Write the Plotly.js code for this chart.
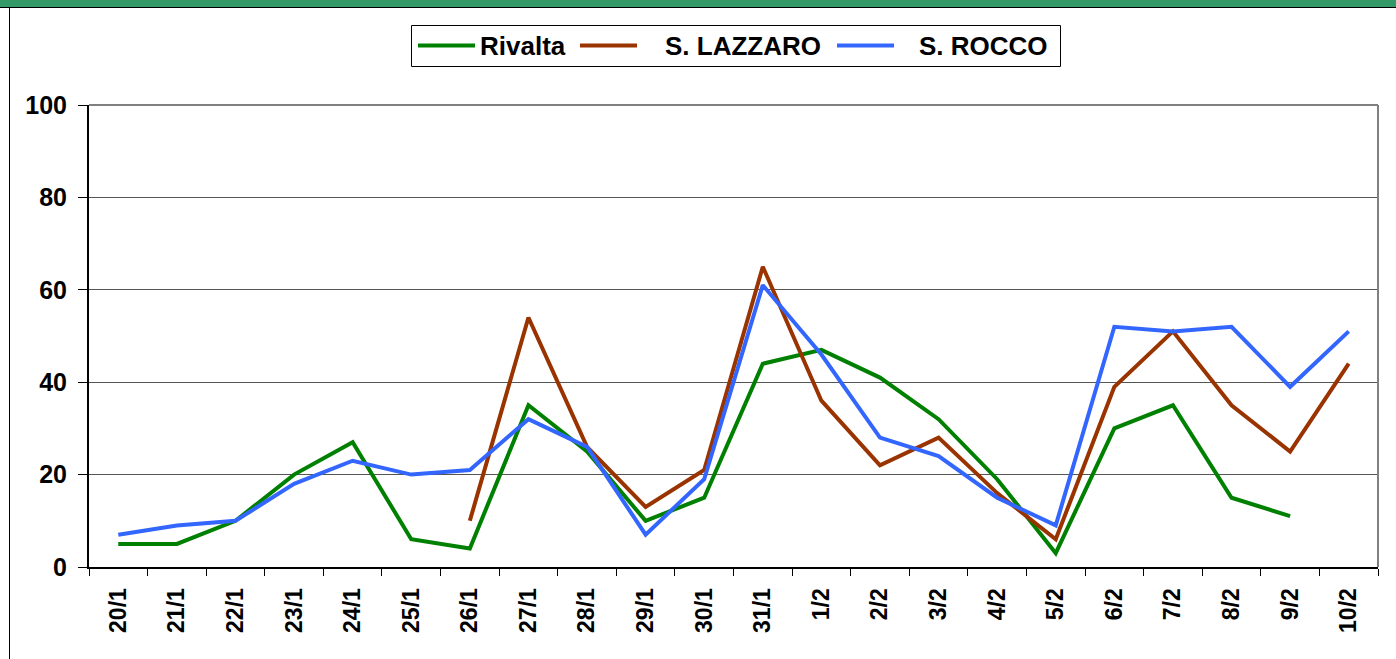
<!DOCTYPE html>
<html>
<head>
<meta charset="utf-8">
<script src="https://cdn.plot.ly/plotly-3.0.1.min.js"></script>
<style>
  html, body { margin: 0; padding: 0; background: #ffffff; }
  #chart { width: 1396px; height: 659px; }
</style>
</head>
<body>
<div id="chart"></div>
<script>
const categories = ["20/1","21/1","22/1","23/1","24/1","25/1","26/1","27/1","28/1","29/1","30/1","31/1",
                    "1/2","2/2","3/2","4/2","5/2","6/2","7/2","8/2","9/2","10/2"];
const rivalta   = [5, 5, 10, 20, 27, 6, 4, 35, 25, 10, 15, 44, 47, 41, 32, 19, 3, 30, 35, 15, 11, null];
const sLazzaro  = [null, null, null, null, null, null, 10, 54, 26, 13, 21, 65, 36, 22, 28, 16, 6, 39, 51, 35, 25, 44];
const sRocco    = [7, 9, 10, 18, 23, 20, 21, 32, 26, 7, 19, 61, 46, 28, 24, 15, 9, 52, 51, 52, 39, 51];
const seriesNames = ["Rivalta", "S. LAZZARO", "S. ROCCO"];
const seriesColors = ["#008000", "#993300", "#3366FF"];
const yTicks = [0, 20, 40, 60, 80, 100];

const W = 1396, H = 659;
const L = 89, R = 1378, T = 105, B = 567;
const px = x => (x - L) / (R - L);
const py = y => (B - y) / (B - T);

const font = "Liberation Sans, Arial, sans-serif";

const seriesValues = [rivalta, sLazzaro, sRocco];
const traces = seriesValues.map((vals, i) => ({
  type: "scatter", mode: "lines", connectgaps: false,
  x: categories, y: vals, name: seriesNames[i],
  line: {color: seriesColors[i], width: 4},
  showlegend: false
}));

// custom legend (Excel-style long line samples)
const legendBox = {x0: 411, x1: 1060, y0: 25, y1: 66};
const legendLineX = [[418, 475], [580, 637], [837, 894]];
const legendTextX = [479, 664, 918];
const legendY = 45.5;

const shapes = [
  // green banner at the top
  {type: "rect", xref: "paper", yref: "paper", x0: px(0), x1: px(W), y0: py(7), y1: py(0),
   fillcolor: "#339966", line: {width: 0}, layer: "below"},
  // outer chart frame
  {type: "line", xref: "paper", yref: "paper", x0: px(0), x1: px(W), y0: py(7.5), y1: py(7.5),
   line: {color: "#000000", width: 1}},
  {type: "line", xref: "paper", yref: "paper", x0: px(9.5), x1: px(9.5), y0: py(7.5), y1: py(H),
   line: {color: "#000000", width: 1}},
  // plot area border (top and right)
  {type: "line", xref: "paper", yref: "paper", x0: 0, x1: 1, y0: 1, y1: 1,
   line: {color: "#808080", width: 2}},
  {type: "line", xref: "paper", yref: "paper", x0: 1, x1: 1, y0: 0, y1: 1,
   line: {color: "#808080", width: 2}},
  // legend box
  {type: "rect", xref: "paper", yref: "paper",
   x0: px(legendBox.x0 + 0.5), x1: px(legendBox.x1 + 0.5), y0: py(legendBox.y1 + 0.5), y1: py(legendBox.y0 + 0.5),
   fillcolor: "#ffffff", line: {color: "#000000", width: 1}}
];
legendLineX.forEach((lx, i) => {
  shapes.push({type: "line", xref: "paper", yref: "paper",
    x0: px(lx[0]), x1: px(lx[1]), y0: py(legendY), y1: py(legendY),
    line: {color: seriesColors[i], width: 4}});
});
const annotations = seriesNames.map((name, i) => ({
  xref: "paper", yref: "paper", x: px(legendTextX[i]), y: py(legendY + 1),
  xanchor: "left", yanchor: "middle", showarrow: false, text: name,
  borderpad: 0,
  font: {family: font, size: 26, weight: "bold", color: "#000000"}
}));

const layout = {
  width: W, height: H,
  margin: {l: L, r: W - R, t: T, b: H - B},
  paper_bgcolor: "#ffffff",
  plot_bgcolor: "#ffffff",
  font: {family: font, color: "#000000"},
  showlegend: false,
  xaxis: {
    type: "category",
    categoryorder: "array", categoryarray: categories,
    range: [-0.5, categories.length - 0.5],
    tickson: "boundaries",
    ticks: "outside", ticklen: 7, tickcolor: "#000000", tickwidth: 1,
    showline: true, linecolor: "#000000", linewidth: 2,
    showgrid: false, zeroline: false,
    tickangle: -90,
    ticklabelstandoff: 10,
    tickfont: {family: font, size: 23, weight: "bold", color: "#000000"},
    fixedrange: true
  },
  yaxis: {
    range: [0, 100],
    tickvals: yTicks,
    ticks: "outside", ticklen: 9, tickcolor: "#000000", tickwidth: 1,
    showline: true, linecolor: "#000000", linewidth: 2,
    showgrid: true, gridcolor: "#555555", gridwidth: 1,
    zeroline: false,
    ticklabelstandoff: 6,
    tickfont: {family: font, size: 25, weight: "bold", color: "#000000"},
    fixedrange: true
  },
  shapes: shapes,
  annotations: annotations
};

Plotly.newPlot("chart", traces, layout, {displayModeBar: false, staticPlot: true});
</script>
</body>
</html>
